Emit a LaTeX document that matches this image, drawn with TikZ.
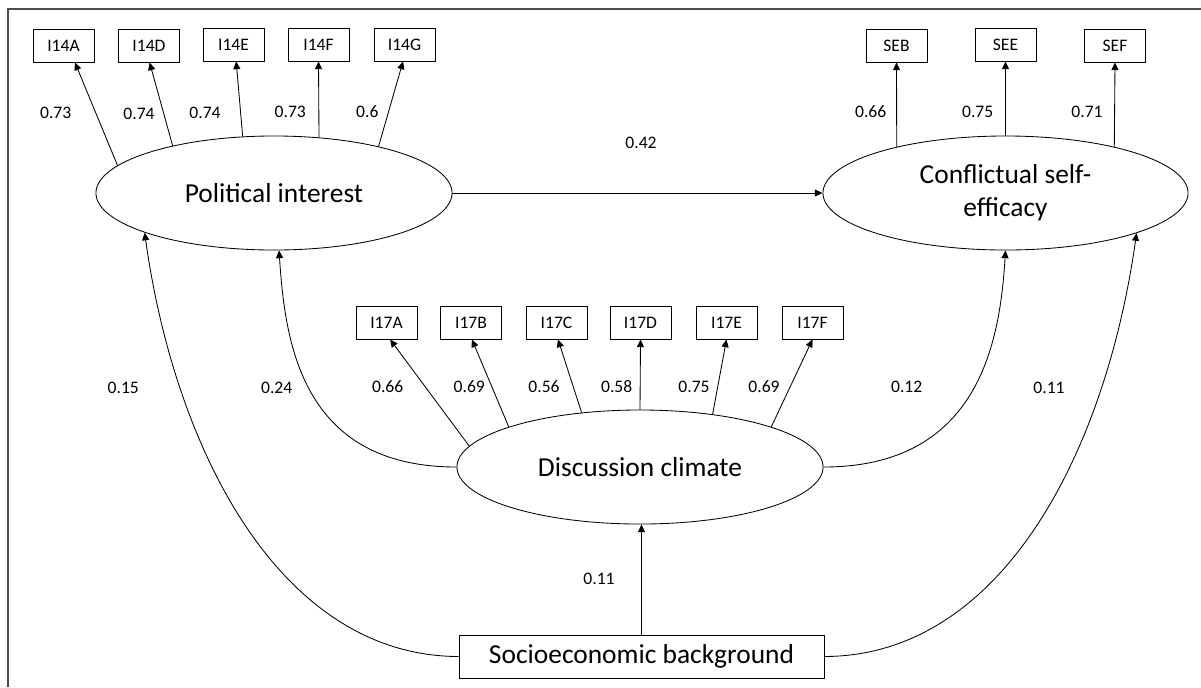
\documentclass[tikz,border=0pt]{standalone}
\usepackage{fontspec}
\setmainfont{Carlito}
\usetikzlibrary{shapes.geometric,arrows.meta}

\begin{document}
\begin{tikzpicture}[x=0.025cm, y=-0.025cm, >={Triangle[length=5.5pt,width=5pt]},
    obs/.style={draw, line width=0.6pt, minimum width=1.525cm, minimum height=0.825cm, inner sep=0pt, font=\fontsize{12.5}{15}\selectfont},
    lat/.style={draw, ellipse, line width=0.6pt, minimum height=2.85cm, inner sep=0pt, font=\fontsize{19.5}{23.5}\selectfont},
    val/.style={inner sep=0pt, font=\fontsize{12.5}{15}\selectfont},
    arr/.style={->, line width=0.6pt}]
    \useasboundingbox (0,0) rectangle (1201,687);

    % Frame (cut at right and bottom)
    \draw[line width=1pt, black!70] (8,687) -- (8,9) -- (1201,9);

    % Indicators of political interest
    \node[obs] (i14a) at (63.5,45.5) {I14A};
    \node[obs] (i14d) at (149,45.5) {I14D};
    \node[obs] (i14e) at (233.5,44.5) {I14E};
    \node[obs] (i14f) at (318.5,44.5) {I14F};
    \node[obs] (i14g) at (404.5,44.5) {I14G};

    % Indicators of self-efficacy
    \node[obs] (seb) at (896.5,45.5) {SEB};
    \node[obs] (see) at (1005.5,44.5) {SEE};
    \node[obs] (sef) at (1115,45.5) {SEF};

    % Indicators of discussion climate
    \node[obs] (i17a) at (386.5,322.5) {I17A};
    \node[obs] (i17b) at (471,322.5) {I17B};
    \node[obs] (i17c) at (556.5,322.5) {I17C};
    \node[obs] (i17d) at (640.5,322.5) {I17D};
    \node[obs] (i17e) at (726.5,322.5) {I17E};
    \node[obs] (i17f) at (812.5,322.5) {I17F};

    % Latent variables
    \node[lat, minimum width=8.9cm] (pi) at (274,193) {Political interest};
    \node[lat, minimum width=9.125cm, align=center] (cse) at (1005.5,193) {Conflictual self-\\efficacy};
    \node[lat, minimum width=9.15cm] (dc) at (640,467) {Discussion climate};

    % Observed background
    \node[draw, line width=0.6pt, minimum width=9.125cm, minimum height=1.075cm, inner sep=0pt,
        font=\fontsize{19.5}{23.5}\selectfont] (ses) at (641.5,656.5) {Socioeconomic background};

    % Loadings
    \draw[arr] (pi.170) -- (i14a.-56);
    \draw[arr] (pi.155) -- (i14d.-88);
    \draw[arr] (pi.119) -- (i14e.-81);
    \draw[arr] (pi.51) -- (i14f.south);
    \draw[arr] (pi.24) -- (i14g.-95);
    \draw[arr] (cse.157) -- (seb.south);
    \draw[arr] (cse.90) -- (see.south);
    \draw[arr] (cse.23) -- (sef.south);
    \draw[arr] (dc.173) -- (i17a.-78);
    \draw[arr] (dc.163) -- (i17b.-87);
    \draw[arr] (dc.137) -- (i17c.-85);
    \draw[arr] (dc.90) -- (i17d.south);
    \draw[arr] (dc.36) -- (i17e.south);
    \draw[arr] (dc.17) -- (i17f.south);

    \node[val] (w14a) at (55.7,113.3) {0.73};
    \node[val] (w14d) at (139,114) {0.74};
    \node[val] (w14e) at (205,113.3) {0.74};
    \node[val] (w14f) at (290.3,111.7) {0.73};
    \node[val] (w14g) at (367.3,111.7) {0.6};
    \node[val] (wseb) at (870.7,111.7) {0.66};
    \node[val] (wsee) at (977.7,111.7) {0.75};
    \node[val] (wsef) at (1087,111.7) {0.71};
    \node[val] (w17a) at (387.7,387) {0.66};
    \node[val] (w17b) at (469.3,387) {0.69};
    \node[val] (w17c) at (544,387) {0.56};
    \node[val] (w17d) at (616.7,387) {0.58};
    \node[val] (w17e) at (694,387) {0.75};
    \node[val] (w17f) at (764,387) {0.69};

    % Structural paths
    \draw[arr] (pi) -- (cse);
    \draw[arr] (ses.north) -- (ses.north |- dc.south);
    \draw[arr] (ses.west) .. controls (280,656) and (175,450) .. (pi.197);
    \draw[arr] (dc.west) .. controls (300,467) and (285,340) .. (pi.-85);
    \draw[arr] (dc.east) .. controls (980,467) and (1000,340) .. (cse.south);
    \draw[arr] (ses.east) .. controls (1003,656) and (1106,450) .. (cse.-17);

    \node[val] (bpc) at (641,143) {0.42};
    \node[val] (bsp) at (123.3,387.7) {0.15};
    \node[val] (bdp) at (276.7,387.7) {0.24};
    \node[val] (bdc) at (906.7,386.7) {0.12};
    \node[val] (bsc) at (1049,387.7) {0.11};
    \node[val] (bsd) at (599,579) {0.11};
\end{tikzpicture}
\end{document}
